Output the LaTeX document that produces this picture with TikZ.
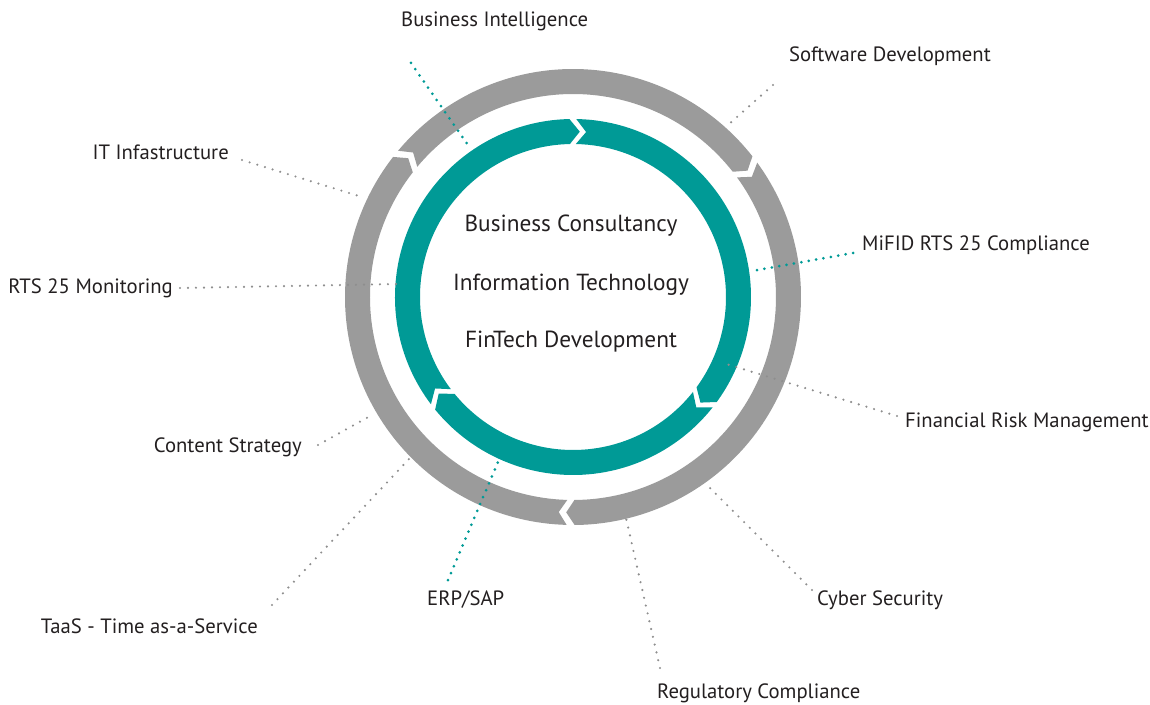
\documentclass[tikz,border=0pt]{standalone}
\usepackage{fontspec}
\setmainfont{PT Sans}
\usetikzlibrary{calc}
\definecolor{ringteal}{HTML}{009A96}
\definecolor{ringgrey}{HTML}{9B9B9B}
\definecolor{dotgrey}{HTML}{8E8E8E}
\definecolor{txt}{HTML}{231F20}
\tikzset{
  lbl/.style={anchor=base west, inner sep=0pt, text=txt,
    font=\fontsize{20.7}{21}\selectfont},
  lblr/.style={lbl, anchor=base east},
  ctr/.style={anchor=base, inner sep=0pt, text=txt,
    font=\fontsize{23.3}{24}\selectfont},
  greydots/.style={dotgrey, line width=2.4pt, line cap=round,
    dash pattern=on 0pt off 8pt},
  tealdots/.style={ringteal, line width=3pt, line cap=round,
    dash pattern=on 0pt off 7.5pt},
}
% one piece of a ring: colour, tail angle, head angle, inner r, outer r, tip depth
\newcommand{\ringarrow}[6]{%
  \fill[#1] (#2:#5) arc[start angle=#2, end angle={#3+#6}, radius=#5]
    -- (#3:{(#4+#5)/2}) -- ({#3+#6}:#4)
    arc[start angle={#3+#6}, end angle=#2, radius=#4]
    -- ({#2-#6}:{(#4+#5)/2}) -- cycle;}

\begin{document}
\begin{tikzpicture}[x=1pt, y=1pt]
  \useasboundingbox (-573,-407) rectangle (577,297);

  % outer grey ring
  \ringarrow{ringgrey}{140.1}{35.9}{203}{228}{2.2}
  \ringarrow{ringgrey}{36.1}{-91.8}{203}{228}{2.2}
  \ringarrow{ringgrey}{-91.6}{-220.1}{203}{228}{2.2}

  % inner teal ring
  \ringarrow{ringteal}{88.95}{-39.65}{153}{178}{3.5}
  \ringarrow{ringteal}{-38.35}{-144.25}{153}{178}{3.5}
  \ringarrow{ringteal}{-142.95}{-272.35}{153}{178}{3.5}

  % centre
  \node[ctr] (bc) at (-2,65) {Business Consultancy};
  \node[ctr] (it) at (-2,7) {Information Technology};
  \node[ctr] (fd) at (-2,-50) {FinTech Development};

  % labels
  \node[lbl]  (bi)  at (-172,270) {Business Intelligence};
  \node[lbl]  (sd)  at (216,235)  {Software Development};
  \node[lblr] (itf) at (-344,137) {IT Infastructure};
  \node[lbl]  (mif) at (289,46)   {MiFID RTS 25 Compliance};
  \node[lblr] (rts) at (-400,4)   {RTS 25 Monitoring};
  \node[lbl]  (frm) at (332,-130) {Financial Risk Management};
  \node[lblr] (cs)  at (-271,-155) {Content Strategy};
  \node[lblr] (taas) at (-315,-336) {TaaS - Time as-a-Service};
  \node[lbl]  (erp) at (-146,-308) {ERP/SAP};
  \node[lbl]  (cyb) at (244,-308) {Cyber Security};
  \node[lbl]  (reg) at (84,-401)  {Regulatory Compliance};

  % leader ends
  \coordinate (bi-a) at (-162,234);   \coordinate (bi-b) at (-103,149);
  \coordinate (sd-a) at (200,212);    \coordinate (sd-b) at (155,172);
  \coordinate (itf-a) at (-331,137);  \coordinate (itf-b) at (-211,100);
  \coordinate (mif-a) at (280,44);    \coordinate (mif-b) at (179,26);
  \coordinate (rts-a) at (-393,9);    \coordinate (rts-b) at (-175,13);
  \coordinate (frm-a) at (324,-119);  \coordinate (frm-b) at (150,-66);
  \coordinate (cs-a) at (-255,-148);  \coordinate (cs-b) at (-201,-118);
  \coordinate (taas-a) at (-301,-308); \coordinate (taas-b) at (-164,-162);
  \coordinate (erp-a) at (-125,-283); \coordinate (erp-b) at (-75,-165);
  \coordinate (cyb-a) at (239,-293);  \coordinate (cyb-b) at (137,-191);
  \coordinate (reg-a) at (87,-371);   \coordinate (reg-b) at (53,-221);

  % leaders
  \draw[tealdots] (bi-a) -- (bi-b);
  \draw[tealdots] (mif-a) -- (mif-b);
  \draw[tealdots] (erp-a) -- (erp-b);
  \foreach \n in {sd,itf,rts,frm,cs,taas,cyb,reg}
    \draw[greydots] (\n-a) -- (\n-b);
\end{tikzpicture}
\end{document}
